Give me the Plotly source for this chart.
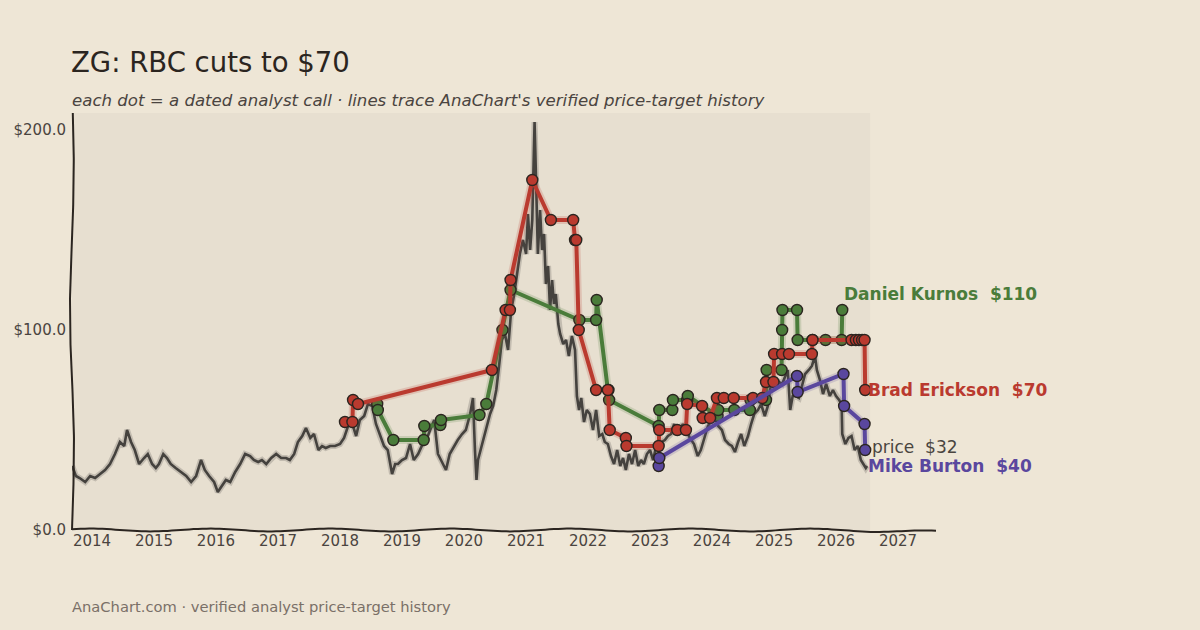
import numpy as np
import pandas as pd
import plotly.graph_objects as go

# ---------------- data (decimal years, USD) ----------------
price_t = [2013.68, 2013.74, 2013.80, 2013.89, 2013.97, 2014.05, 2014.13, 2014.21, 2014.29, 2014.37,
           2014.45, 2014.52, 2014.565, 2014.63, 2014.69, 2014.76, 2014.84, 2014.90, 2014.97, 2015.03,
           2015.08, 2015.15, 2015.21, 2015.27, 2015.35, 2015.44, 2015.52, 2015.60, 2015.68, 2015.76,
           2015.82, 2015.89, 2015.97, 2016.03, 2016.10, 2016.16, 2016.23, 2016.31, 2016.39, 2016.47,
           2016.55, 2016.61, 2016.68, 2016.74, 2016.81, 2016.89, 2016.97, 2017.05, 2017.13, 2017.19,
           2017.26, 2017.32, 2017.39, 2017.45, 2017.52, 2017.58, 2017.65, 2017.71, 2017.77, 2017.84,
           2017.92, 2018.00, 2018.065, 2018.13, 2018.19, 2018.26, 2018.32, 2018.39, 2018.45, 2018.52,
           2018.58, 2018.645, 2018.71, 2018.77, 2018.84, 2018.89, 2018.935, 2019.00, 2019.065, 2019.13,
           2019.19, 2019.26, 2019.32, 2019.39, 2019.45, 2019.52, 2019.58, 2019.645, 2019.71, 2019.77,
           2019.84, 2019.90, 2019.97, 2020.03, 2020.10, 2020.145, 2020.177, 2020.202, 2020.226, 2020.27,
           2020.32, 2020.37, 2020.42, 2020.47, 2020.52, 2020.565, 2020.61, 2020.66, 2020.71, 2020.76,
           2020.81, 2020.855, 2020.90, 2020.95, 2021.00, 2021.03, 2021.065, 2021.10, 2021.12, 2021.137,
           2021.161, 2021.19, 2021.226, 2021.258, 2021.29, 2021.32, 2021.355, 2021.387, 2021.42, 2021.45,
           2021.48, 2021.52, 2021.55, 2021.60, 2021.645, 2021.69, 2021.74, 2021.79, 2021.82, 2021.855,
           2021.89, 2021.935, 2021.98, 2022.03, 2022.08, 2022.13, 2022.18, 2022.23, 2022.27, 2022.32,
           2022.37, 2022.42, 2022.47, 2022.52, 2022.565, 2022.61, 2022.66, 2022.71, 2022.76, 2022.81,
           2022.855, 2022.90, 2022.95, 2023.00, 2023.05, 2023.10, 2023.145, 2023.19, 2023.24, 2023.29,
           2023.34, 2023.39, 2023.435, 2023.48, 2023.53, 2023.58, 2023.645, 2023.71, 2023.77, 2023.82,
           2023.87, 2023.935, 2024.00, 2024.05, 2024.10, 2024.16, 2024.21, 2024.27, 2024.32, 2024.37,
           2024.42, 2024.47, 2024.52, 2024.58, 2024.63, 2024.68, 2024.74, 2024.79, 2024.85, 2024.90,
           2024.94, 2024.98, 2025.03, 2025.08, 2025.13, 2025.18, 2025.22, 2025.26, 2025.30, 2025.35,
           2025.40, 2025.45, 2025.50, 2025.56, 2025.61, 2025.66, 2025.69, 2025.74, 2025.79, 2025.84,
           2025.90, 2025.95, 2026.00, 2026.05, 2026.09, 2026.10, 2026.15, 2026.20, 2026.25, 2026.30,
           2026.35, 2026.40, 2026.44, 2026.48, 2026.50]
price_v = [32, 27, 26, 24, 27, 26, 28, 30, 33, 38,
           44, 42, 50, 44, 40, 33, 36, 38, 33, 31,
           33, 38, 36, 33, 31, 29, 27, 24, 27, 35,
           30, 27, 24, 19, 22, 25, 24, 29, 33, 38,
           37, 35, 34, 35, 33, 36, 38, 36, 36, 35,
           38, 44, 47, 51, 46, 48, 40, 42, 41, 42,
           42, 43, 46, 52, 54, 47, 55, 57, 63, 62,
           53, 47, 42, 40, 28, 33, 33, 35, 36, 43,
           35, 38, 42, 45, 50, 55, 38, 34, 30, 38,
           42, 45, 48, 50, 58, 66, 40, 25, 35, 40,
           46, 52, 58, 62, 70, 82, 95, 98, 90, 110,
           118, 128, 138, 145, 138, 158, 140, 155, 178, 204,
           175, 138, 160, 140, 148, 123, 132, 110, 125, 113,
           118, 103, 98, 93, 95, 87, 97, 90, 67, 60,
           66, 54, 60, 58, 50, 60, 47, 48, 44, 43,
           37, 33, 40, 32, 36, 30, 38, 33, 40, 32,
           35, 33, 38, 40, 35, 42, 41, 44, 45, 47,
           48, 53, 48, 50, 53, 50, 46, 43, 37, 40,
           45, 52, 55, 57, 52, 50, 45, 43, 42, 39,
           44, 48, 42, 47, 53, 58, 60, 63, 57, 62,
           71, 76, 72, 74, 73, 77, 80, 60, 67, 67,
           66, 72, 78, 80, 82, 87, 80, 75, 68, 73,
           67, 70, 67, 65, 63, 48, 43, 46, 47, 40,
           42, 35, 33, 31, 32]

kurnos_t = [2018.60, 2018.61, 2018.86, 2019.35, 2019.36, 2019.62, 2019.63, 2020.25, 2020.36, 2020.62,
            2020.75, 2021.86, 2022.13, 2022.14, 2022.33, 2022.34, 2023.14, 2023.15, 2023.36, 2023.37,
            2023.60, 2023.61, 2024.09, 2024.10, 2024.36, 2024.61, 2024.62, 2024.87, 2024.88, 2025.12,
            2025.13, 2025.135, 2025.37, 2025.38, 2025.62, 2025.83, 2026.09, 2026.10]
kurnos_v = [63, 60, 45, 45, 52, 52.5, 55, 57.5, 63, 100,
            120, 105, 105, 115, 70, 65, 52, 60, 60, 65,
            65, 67, 57, 60, 60, 60, 65, 65, 80, 80,
            100, 110, 110, 95, 95, 95, 95, 110]

erickson_t = [2018.08, 2018.20, 2018.21, 2018.29, 2020.45, 2020.67, 2020.74, 2020.75, 2021.10, 2021.40,
              2021.76, 2021.79, 2021.81, 2021.85, 2022.13, 2022.32, 2022.35, 2022.61, 2022.62, 2023.14,
              2023.15, 2023.44, 2023.58, 2023.60, 2023.84, 2023.85, 2023.97, 2024.08, 2024.19, 2024.35,
              2024.66, 2024.81, 2024.87, 2024.99, 2025.00, 2025.13, 2025.24, 2025.61, 2025.62, 2026.25,
              2026.32, 2026.37, 2026.42, 2026.46, 2026.47]
erickson_v = [54, 54, 65, 63, 80, 110, 110, 125, 175, 155,
              155, 145, 145, 100, 70, 70, 50, 46, 42, 42,
              50, 50, 50, 63, 62, 56, 56, 66, 66, 66,
              66, 66, 74, 74, 88, 88, 88, 88, 95, 95,
              95, 95, 95, 95, 70]

burton_t = [2023.14, 2023.15, 2025.37, 2025.38, 2026.12, 2026.13, 2026.46, 2026.47]
burton_v = [32, 36, 77, 69, 78, 62, 53, 40]

analysts = ["Daniel Kurnos", "Brad Erickson", "Mike Burton"]
analyst_colors = ["#4A7C3A", "#BA3A2F", "#5A479E"]

title_text = "ZG: RBC cuts to $70"
subtitle_text = "each dot = a dated analyst call · lines trace AnaChart's verified price-target history"
footer_text = "AnaChart.com · verified analyst price-target history"
year_ticks = list(range(2014, 2028))


def to_date(y):
    yr = int(np.floor(y))
    a = pd.Timestamp(year=yr, month=1, day=1)
    b = pd.Timestamp(year=yr + 1, month=1, day=1)
    return a + (b - a) * (y - yr)


FONT = "DejaVu Sans, sans-serif"
PAPER = "#EEE6D6"
SHADE = "#E7DFD0"
INK = "#2B2520"

x_start, x_end = to_date(2013.677), to_date(2027.613)
shade_end = to_date(2026.55)

fig = go.Figure()

# price line
pd_dates = [to_date(t) for t in price_t]
fig.add_trace(go.Scatter(x=pd_dates, y=price_v, mode="lines",
                         line=dict(color="rgba(70,66,62,0.22)", width=6),
                         hoverinfo="skip", showlegend=False))
fig.add_trace(go.Scatter(x=pd_dates, y=price_v, mode="lines",
                         line=dict(color="#45423E", width=2.6), name="price", showlegend=False))

series = [(kurnos_t, kurnos_v), (erickson_t, erickson_v), (burton_t, burton_v)]
for (ts, vs), name, col in zip(series, analysts, analyst_colors):
    dts = [to_date(t) for t in ts]
    fig.add_trace(go.Scatter(x=dts, y=vs, mode="lines", line=dict(color=col, width=8),
                             opacity=0.18, hoverinfo="skip", showlegend=False))
    fig.add_trace(go.Scatter(x=dts, y=vs, mode="lines+markers", name=name, showlegend=False,
                             line=dict(color=col, width=4),
                             marker=dict(size=11, color=col, line=dict(color=INK, width=1.4))))

# end labels
label_shift = [(0, 16), (1, 0), (1, -16)]
for (ts, vs), name, col, (dx, dy) in zip(series, analysts, analyst_colors, label_shift):
    fig.add_annotation(x=to_date(ts[-1]), y=vs[-1], text=f"<b>{name}  ${vs[-1]:.0f}</b>",
                       xanchor="left", yanchor="middle", xshift=dx, yshift=dy, showarrow=False,
                       font=dict(family=FONT, size=17, color=col))
fig.add_annotation(x=to_date(price_t[-1]), y=price_v[-1], text=f"price  ${price_v[-1]:.0f}",
                   xanchor="left", yanchor="middle", xshift=3, yshift=19, showarrow=False,
                   font=dict(family=FONT, size=17, color="#4A4540"))

# titles
fig.add_annotation(x=0, y=1.1223, xref="paper", yref="paper", xanchor="left", yanchor="middle",
                   xshift=-3, text=title_text, showarrow=False,
                   font=dict(family=FONT, size=27.5, color=INK))
fig.add_annotation(x=0, y=1.031, xref="paper", yref="paper", xanchor="left", yanchor="middle",
                   xshift=-2, text=f"<i>{subtitle_text}</i>", showarrow=False,
                   font=dict(family=FONT, size=16.6, color="#4A4440"))
fig.add_annotation(x=0, y=-0.1823, xref="paper", yref="paper", xanchor="left", yanchor="middle",
                   xshift=-2, text=footer_text, showarrow=False,
                   font=dict(family=FONT, size=14.7, color="#7A7068"))

# shaded data region
fig.add_shape(type="rect", xref="x", yref="paper", x0=x_start, x1=shade_end, y0=0, y1=1,
              fillcolor=SHADE, line=dict(width=0), layer="below")

# hand-drawn (wavy) axis spines, paper coordinates
W, H = 864.0, 417.0
s = np.linspace(0, 1, 120)
yx = (np.array([0.0, 1.5, 2.0, 0.5, -1.5, -2.0, -0.5, 1.2, 1.8, 0.8]))
ax_x = 0 + np.interp(s, np.linspace(0, 1, len(yx)), yx) / W
p = "M " + " L ".join(f"{ax_x[i]:.5f},{s[i]:.5f}" for i in range(len(s)))
fig.add_shape(type="path", xref="paper", yref="paper", path=p, line=dict(color=INK, width=2))
xs = np.linspace(0, 1, 200)
wob = 1.4 * np.sin(xs * W / 120 * 2 * np.pi + 0.6) - 2.0 * np.clip((xs - 0.9) / 0.1, 0, 1)
ps = "M " + " L ".join(f"{xs[i]:.5f},{wob[i] / H:.5f}" for i in range(len(xs)))
fig.add_shape(type="path", xref="paper", yref="paper", path=ps, line=dict(color=INK, width=2))

fig.update_layout(
    width=1200, height=630,
    margin=dict(l=72, r=264, t=113, b=100),
    paper_bgcolor=PAPER, plot_bgcolor=PAPER,
    font=dict(family=FONT, color="#4A4440", size=15),
    xaxis=dict(type="date", range=[x_start, x_end], showgrid=False, zeroline=False, showline=False,
               tickmode="array", tickvals=[pd.Timestamp(year=y, month=1, day=1) for y in year_ticks],
               ticktext=[str(y) for y in year_ticks], tickfont=dict(size=15, color="#4A4440"),
               ticks="", ticklen=0),
    yaxis=dict(range=[0, 208.5], showgrid=False, zeroline=False, showline=False,
               tickmode="array", tickvals=[0, 100, 200], tickformat="$.1f",
               tickfont=dict(size=15, color="#4A4440"), ticks="", ticklabelstandoff=5),
    hovermode=False,
)

fig.write_html("out.html")
